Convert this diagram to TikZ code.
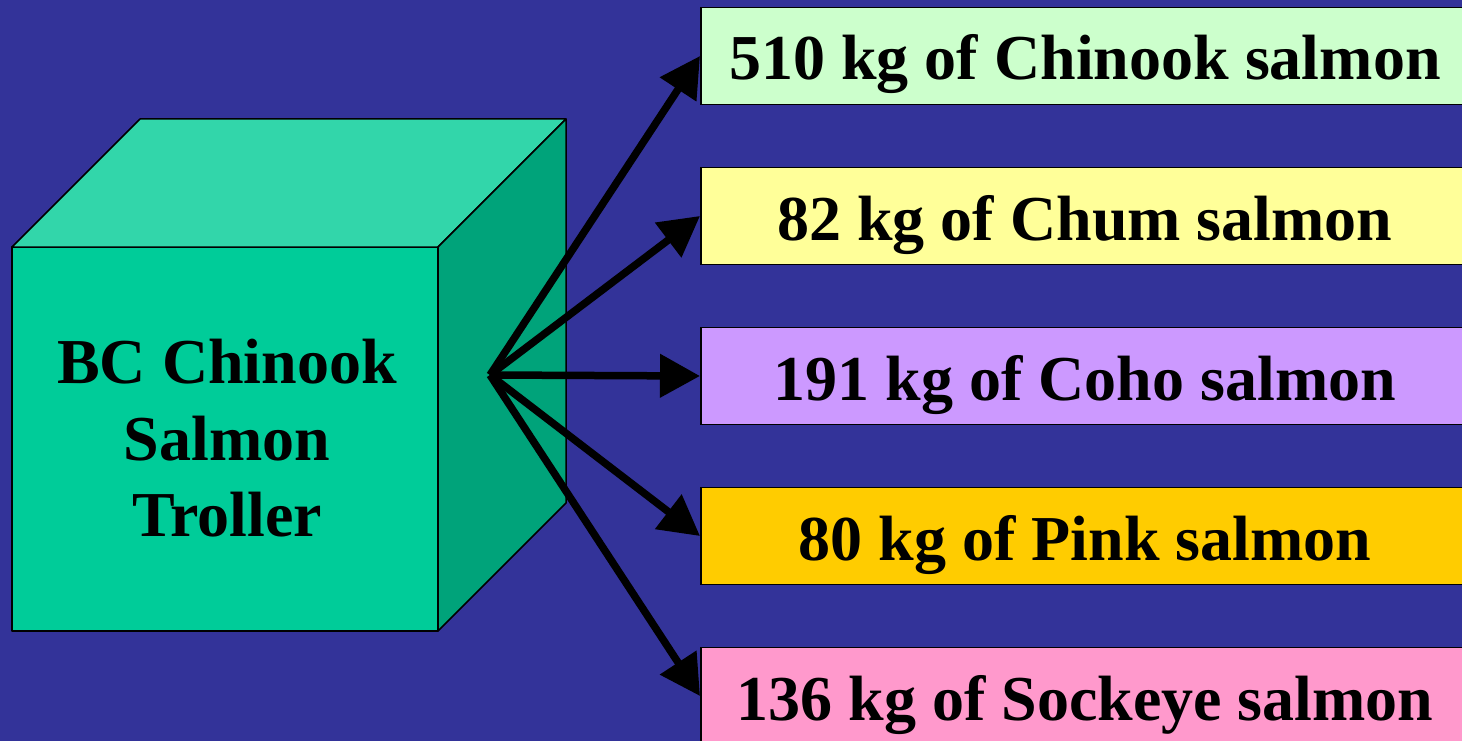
\documentclass[tikz,border=0pt]{standalone}
\usepackage{fontspec}
\setmainfont{Liberation Serif}
\usetikzlibrary{arrows.meta}
\definecolor{bgblue}{RGB}{51,51,153}
\definecolor{cubefront}{RGB}{0,204,153}
\definecolor{cubetop}{RGB}{50,214,170}
\definecolor{cuberight}{RGB}{0,163,122}
\definecolor{cgreen}{RGB}{204,255,204}
\definecolor{cyellow}{RGB}{255,255,153}
\definecolor{cviolet}{RGB}{204,153,255}
\definecolor{corange}{RGB}{255,204,0}
\definecolor{cpink}{RGB}{255,153,204}
\tikzset{
  face/.style={draw=black, line width=1.5pt, line join=round},
  catchbox/.style={draw=black, line width=1.5pt, minimum width=770pt, minimum height=97pt, inner sep=0pt},
  lbl/.style={font=\fontsize{64}{76}\selectfont\bfseries, anchor=base, inner sep=0pt},
  flow/.style={line width=7.5pt, -{Triangle[length=40pt,width=42pt]}},
}
\begin{document}
\begin{tikzpicture}[x=1pt,y=-1pt]
\fill[bgblue] (0,0) rectangle (1462,741);
\useasboundingbox (0,0) rectangle (1462,741);
% cube
\filldraw[face, fill=cubefront] (12,247) -- (438,247) -- (438,631) -- (12,631) -- cycle;
\filldraw[face, fill=cubetop] (12,247) -- (140,119) -- (566,119) -- (438,247) -- cycle;
\filldraw[face, fill=cuberight] (438,247) -- (566,119) -- (566,503) -- (438,631) -- cycle;
\node[lbl] (t1) at (227,383) {BC Chinook};
\node[lbl] (t2) at (227,460) {Salmon};
\node[lbl] (t3) at (227,536) {Troller};
\coordinate (src) at (490,375);
% boxes
\node[catchbox, fill=cgreen, anchor=west] (b1) at (700,56) {};
\node[catchbox, fill=cyellow, anchor=west] (b2) at (700,216) {};
\node[catchbox, fill=cviolet, anchor=west] (b3) at (700,376) {};
\node[catchbox, fill=corange, anchor=west] (b4) at (700,536) {};
\node[catchbox, fill=cpink, anchor=west] (b5) at (700,696) {};
\node[lbl] (l1) at (1085,80) {510 kg of Chinook salmon};
\node[lbl] (l2) at (1085,240) {82 kg of Chum salmon};
\node[lbl] (l3) at (1085,400) {191 kg of Coho salmon};
\node[lbl] (l4) at (1085,560) {80 kg of Pink salmon};
\node[lbl] (l5) at (1085,720) {136 kg of Sockeye salmon};
% arrows
\foreach \b in {b1,b2,b3,b4,b5}
  \draw[flow] (src) -- (\b.west);
\end{tikzpicture}
\end{document}
